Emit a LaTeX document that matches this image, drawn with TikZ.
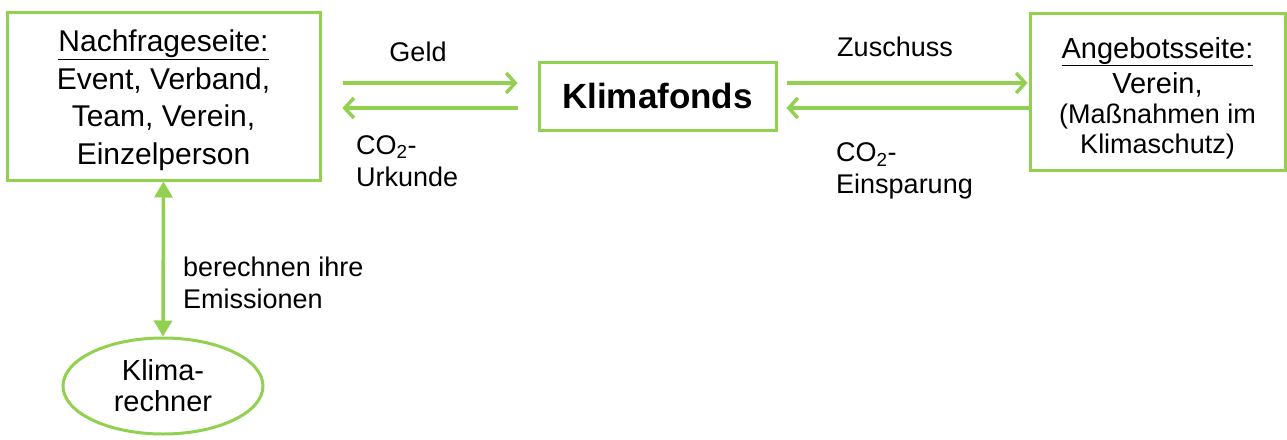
\documentclass[tikz,border=0pt]{standalone}
\usepackage{fontspec}
\setmainfont{Liberation Sans}
\usetikzlibrary{arrows.meta,shapes.geometric,calc}
\definecolor{gr}{HTML}{92D050}
\begin{document}
\begin{tikzpicture}[x=1pt,y=-1pt,
  box/.style={draw=gr,line width=3pt,inner sep=0pt},
  txt/.style={align=center,inner sep=0pt},
  lab/.style={font=\fontsize{27}{32}\selectfont,inner sep=0pt},
  garr/.style={draw=gr,line width=3.5pt,-{Straight Barb[length=9pt,width=20pt,line width=3.5pt]}},
  varr/.style={draw=gr,line width=3.5pt,{Triangle[length=16pt,width=18pt]}-{Triangle[length=16pt,width=18pt]}}]
\useasboundingbox (0,0) rectangle (1287,439);
% left box
\node[box,minimum width=313pt,minimum height=168pt] (L) at (163.5,96) {};
\node[txt,font=\fontsize{30}{37.5}\selectfont] (Lt) at (163.5,100)
  {\underline{Nachfrageseite:}\\Event, Verband,\\Team, Verein,\\Einzelperson};
% Klimafonds
\node[box,align=center,font=\bfseries\fontsize{35}{40}\selectfont,minimum width=237pt,minimum height=68pt] (K) at (657.5,96) {Klimafonds};
% right box
\node[box,minimum width=255pt,minimum height=157pt] (R) at (1157.5,91.5) {};
\node[txt,font=\fontsize{29}{30}\selectfont] (Rt) at (1157.5,98)
  {\underline{Angebotsseite:}\\[5pt]Verein,\\{\fontsize{27}{30}\selectfont(Maßnahmen im}\\{\fontsize{27}{30}\selectfont Klimaschutz)}};
% ellipse
\node[ellipse,draw=gr,line width=3pt,minimum width=200pt,minimum height=96pt,inner sep=0pt,align=center,font=\fontsize{29}{31}\selectfont] (E) at (163,386) {Klima-\\rechner};
% arrows left
\path ([yshift=13pt]L.east) coordinate (l1) ([yshift=-12pt]L.east) coordinate (l2);
\draw[garr,shorten <=21pt,shorten >=20pt] (l1) -- (l1 -| K.west);
\draw[garr,shorten <=20pt,shorten >=21pt] (l2 -| K.west) -- (l2);
% arrows right
\path ([yshift=13pt]K.east) coordinate (k1) ([yshift=-12pt]K.east) coordinate (k2);
\draw[garr,shorten <=9pt,shorten >=1pt] (k1) -- (k1 -| R.west);
\draw[garr,shorten <=0pt,shorten >=9pt] (k2 -| R.west) -- (k2);
% vertical
\draw[varr] (L.south) -- (E.north);
% labels
\node[lab] (geld) at (418,52) {Geld};
\node[lab,anchor=west,align=left] (urk) at (356,161) {CO\textsubscript{2}-\\Urkunde};
\node[lab] (zus) at (895,47) {Zuschuss};
\node[lab,anchor=west,align=left] (eins) at (836,171) {CO\textsubscript{2}-\\Einsparung};
\node[lab,anchor=west,align=left] (ber) at (183,283) {berechnen ihre\\Emissionen};
\end{tikzpicture}
\end{document}
